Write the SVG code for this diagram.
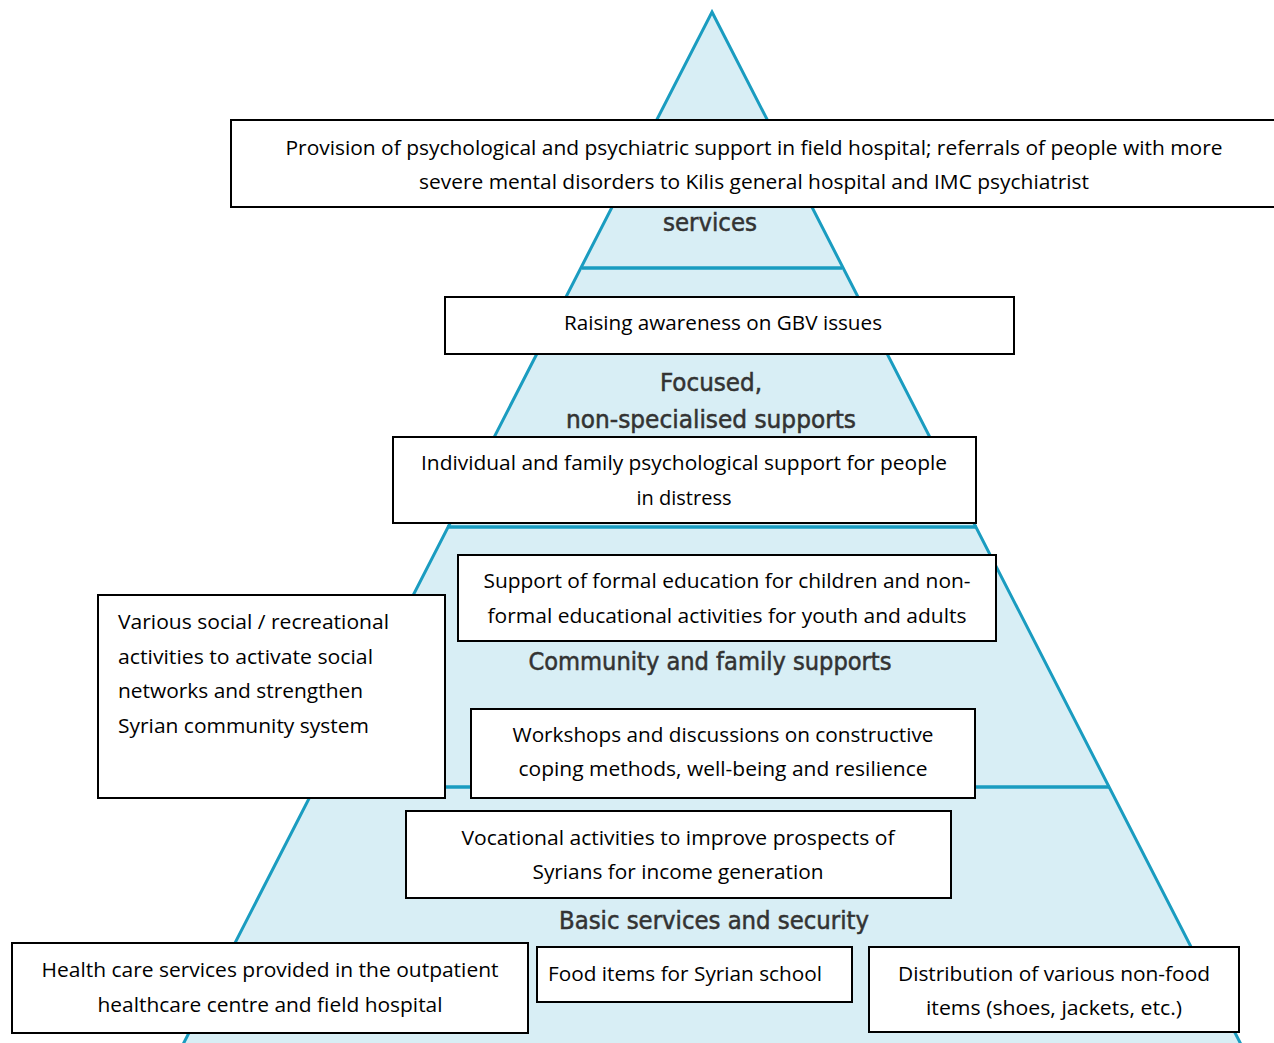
<svg xmlns="http://www.w3.org/2000/svg" width="1274" height="1043" viewBox="0 0 1274 1043">
<style>
.pyr{fill:#d8eef5;stroke:#1a9cc0;stroke-width:3;stroke-linejoin:miter}
.tier{stroke:#1a9cc0;stroke-width:3.5;fill:none}
.lvl{font-family:"DejaVu Sans Condensed","DejaVu Sans",sans-serif;font-size:25px;fill:#333;stroke:#333;stroke-width:0.5;text-anchor:middle}
.box{fill:#fff;stroke:#000;stroke-width:2}
.t{font-family:"Open Sans","Noto Sans",sans-serif;font-size:20px;fill:#000;text-anchor:middle}
.tl{font-family:"Open Sans","Noto Sans",sans-serif;font-size:20px;fill:#000}
</style>
<rect width="1274" height="1043" fill="#fff"/>
<g id="pyramid">
<polygon class="pyr" points="712,12 1250,1062 174,1062"/>
<line class="tier" x1="582" y1="268" x2="842" y2="268"/>
<line class="tier" x1="447" y1="527" x2="977" y2="527"/>
<line class="tier" x1="308" y1="787" x2="1110" y2="787"/>
<text class="lvl" x="710" y="231" textLength="94" lengthAdjust="spacingAndGlyphs">services</text>
<text class="lvl" x="711" y="391" textLength="102" lengthAdjust="spacingAndGlyphs">Focused,</text>
<text class="lvl" x="711" y="428" textLength="290" lengthAdjust="spacingAndGlyphs">non-specialised supports</text>
<text class="lvl" x="710" y="670" textLength="363" lengthAdjust="spacingAndGlyphs">Community and family supports</text>
<text class="lvl" x="714" y="929" textLength="310" lengthAdjust="spacingAndGlyphs">Basic services and security</text>
</g>
<g id="connectors"/>
<g id="n-specialised">
<rect class="box" x="231" y="120" width="1060" height="87"/>
<text class="t" x="754" y="155" textLength="937" lengthAdjust="spacingAndGlyphs">Provision of psychological and psychiatric support in field hospital; referrals of people with more</text>
<text class="t" x="754" y="189" textLength="670" lengthAdjust="spacingAndGlyphs">severe mental disorders to Kilis general hospital and IMC psychiatrist</text>
</g>
<g id="n-gbv">
<rect class="box" x="445" y="297" width="569" height="57"/>
<text class="t" x="723" y="330" textLength="318" lengthAdjust="spacingAndGlyphs">Raising awareness on GBV issues</text>
</g>
<g id="n-individual">
<rect class="box" x="393" y="437" width="583" height="86"/>
<text class="t" x="684" y="470" textLength="526" lengthAdjust="spacingAndGlyphs">Individual and family psychological support for people</text>
<text class="t" x="684" y="505">in distress</text>
</g>
<g id="n-education">
<rect class="box" x="458" y="555" width="538" height="86"/>
<text class="t" x="727" y="588" textLength="487" lengthAdjust="spacingAndGlyphs">Support of formal education for children and non-</text>
<text class="t" x="727" y="623" textLength="479" lengthAdjust="spacingAndGlyphs">formal educational activities for youth and adults</text>
</g>
<g id="n-social">
<rect class="box" x="98" y="595" width="347" height="203"/>
<text class="tl" x="118" y="629" textLength="271" lengthAdjust="spacingAndGlyphs">Various social / recreational</text>
<text class="tl" x="118" y="664" textLength="255" lengthAdjust="spacingAndGlyphs">activities to activate social</text>
<text class="tl" x="118" y="698" textLength="245" lengthAdjust="spacingAndGlyphs">networks and strengthen</text>
<text class="tl" x="118" y="733" textLength="251" lengthAdjust="spacingAndGlyphs">Syrian community system</text>
</g>
<g id="n-workshops">
<rect class="box" x="471" y="709" width="504" height="89"/>
<text class="t" x="723" y="742" textLength="421" lengthAdjust="spacingAndGlyphs">Workshops and discussions on constructive</text>
<text class="t" x="723" y="776" textLength="409" lengthAdjust="spacingAndGlyphs">coping methods, well-being and resilience</text>
</g>
<g id="n-vocational">
<rect class="box" x="406" y="811" width="545" height="87"/>
<text class="t" x="678" y="845" textLength="433" lengthAdjust="spacingAndGlyphs">Vocational activities to improve prospects of</text>
<text class="t" x="678" y="879" textLength="291" lengthAdjust="spacingAndGlyphs">Syrians for income generation</text>
</g>
<g id="n-health">
<rect class="box" x="12" y="943" width="516" height="90"/>
<text class="t" x="270" y="977" textLength="457" lengthAdjust="spacingAndGlyphs">Health care services provided in the outpatient</text>
<text class="t" x="270" y="1012" textLength="345" lengthAdjust="spacingAndGlyphs">healthcare centre and field hospital</text>
</g>
<g id="n-food">
<rect class="box" x="537" y="947" width="315" height="55"/>
<text class="t" x="685" y="981" textLength="274" lengthAdjust="spacingAndGlyphs">Food items for Syrian school</text>
</g>
<g id="n-nonfood">
<rect class="box" x="869" y="947" width="370" height="85"/>
<text class="t" x="1054" y="981" textLength="312" lengthAdjust="spacingAndGlyphs">Distribution of various non-food</text>
<text class="t" x="1054" y="1015" textLength="256" lengthAdjust="spacingAndGlyphs">items (shoes, jackets, etc.)</text>
</g>
</svg>
